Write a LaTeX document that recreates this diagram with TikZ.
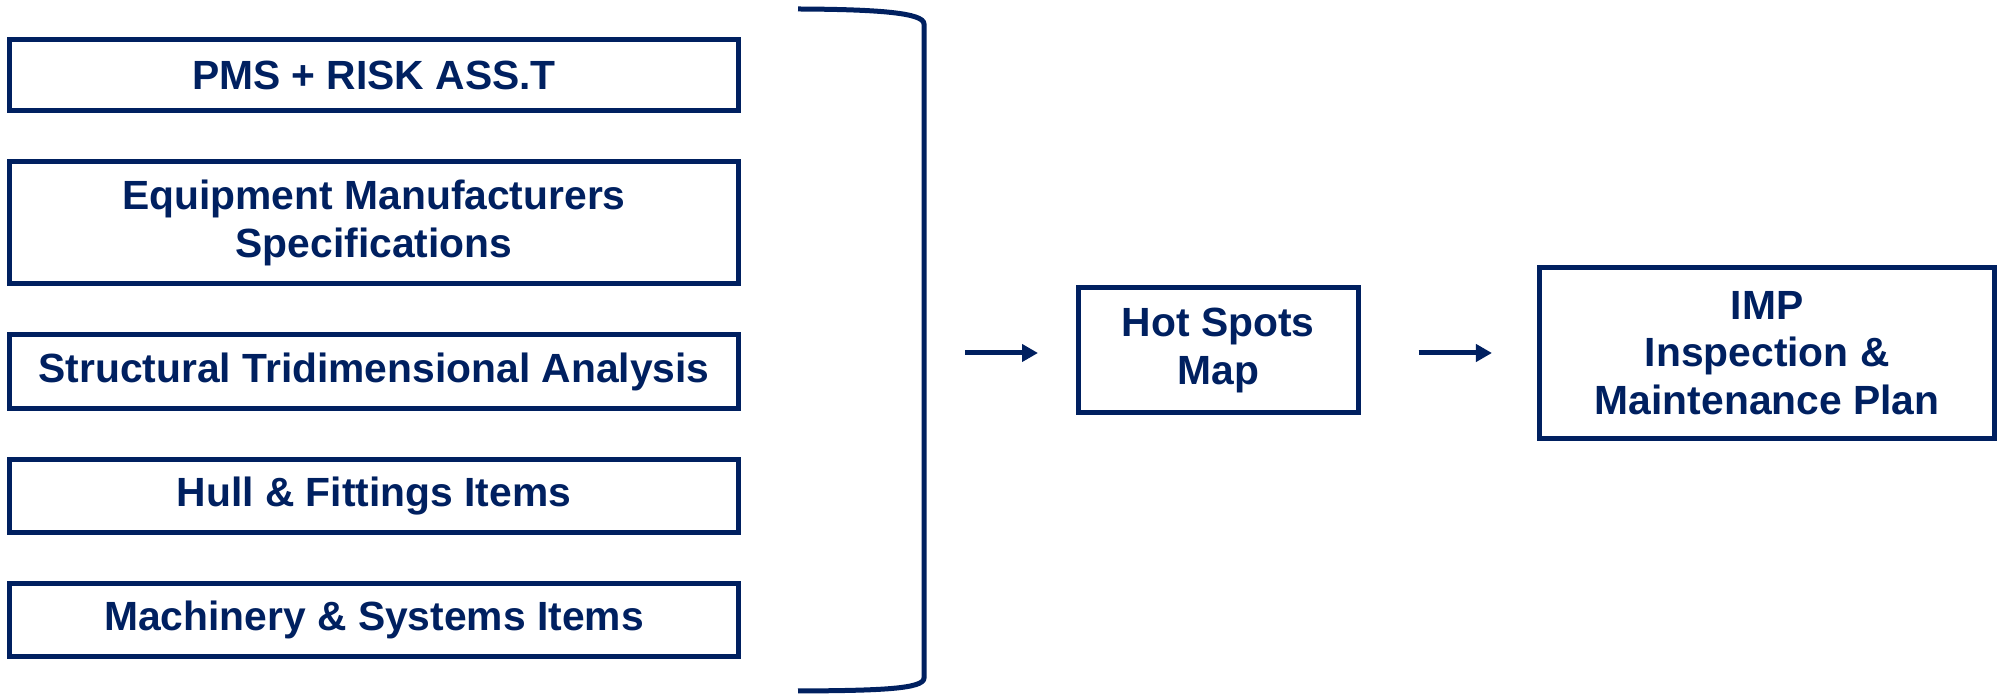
\documentclass[tikz,border=0pt]{standalone}
\usepackage{fontspec}
\setmainfont{Liberation Sans}
\usepackage{tikz}
\usetikzlibrary{positioning,arrows.meta}
\definecolor{navy}{HTML}{002060}

\begin{document}
\begin{tikzpicture}[x=1pt,y=1pt,
  item/.style={draw=navy,line width=2.5pt,rectangle,minimum width=364.5pt,minimum height=35.5pt,
    text=navy,font=\fontsize{20.4}{23.8}\selectfont\bfseries,align=center,inner sep=0pt},
  flow/.style={draw=navy,line width=2.5pt,-{Triangle[length=8pt,width=8.5pt]}}]
\useasboundingbox (0,0) rectangle (998.5,347);
\node [item] (pms) at (187,309.4) {PMS + RISK ASS.T};
\node [item,minimum height=61pt,below=23pt of pms] (equip) {Equipment Manufacturers\\Specifications};
\node [item,minimum height=37pt,below=23pt of equip] (struct) {Structural Tridimensional Analysis};
\node [item,minimum height=36.5pt,below=23pt of struct] (hull) {Hull \& Fittings Items};
\node [item,minimum height=36.5pt,below=23pt of hull] (mach) {Machinery \& Systems Items};
% closing brace
\draw [navy,line width=2.5pt] (399,342.5) .. controls (440,342.3) and (462,340.5) .. (462,335)
  -- (462,8) .. controls (462,2.5) and (440,1.7) .. (399,1.5);
\coordinate (brace) at (462,170.5);
\node [item,minimum width=140.3pt,minimum height=62.5pt] (hot) at (609.15,171.75) {Hot Spots\\Map};
\node [item,minimum width=227.25pt,minimum height=85.25pt] (imp) at (883.6,170.6) {IMP\\Inspection \&\\Maintenance Plan};
\draw [flow,shorten <=20.5pt,shorten >=18.75pt] (brace) -- (brace -| hot.west);
\draw [flow,shorten <=28.8pt,shorten >=22.75pt] (hot.east |- brace) -- (brace -| imp.west);
\end{tikzpicture}
\end{document}
